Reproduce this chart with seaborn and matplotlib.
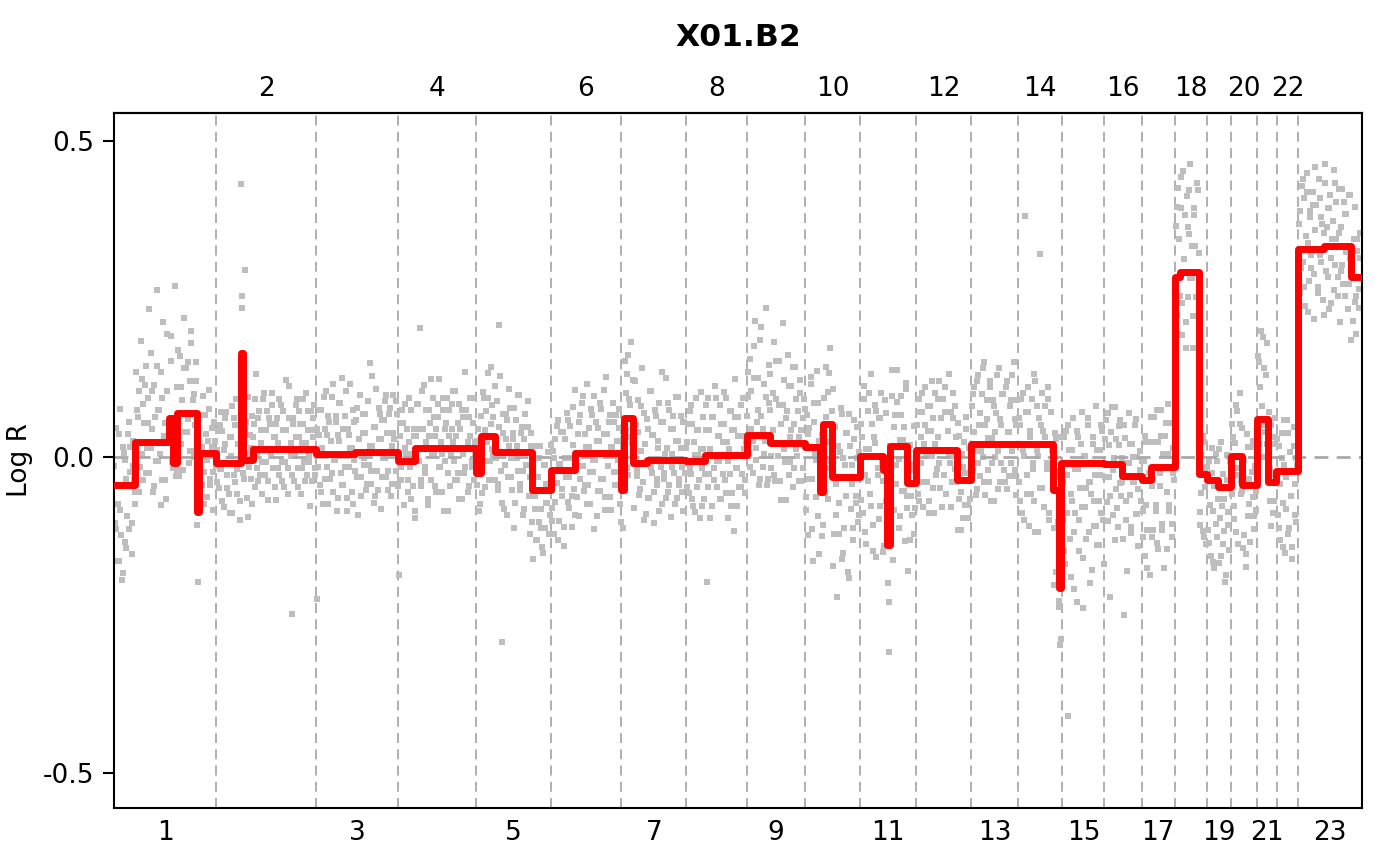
import numpy as np
import pandas as pd
import matplotlib
matplotlib.use("Agg")
import matplotlib.pyplot as plt
import seaborn as sns

sns.set_style("ticks")
plt.rcParams["font.family"] = ["DejaVu Sans"]
plt.rcParams.update({"text.color": "black", "axes.labelcolor": "black",
                     "xtick.color": "black", "ytick.color": "black",
                     "axes.edgecolor": "black"})

# chromosome names and sizes (Mb, hg19)
chrom_names = ["1", "2", "3", "4", "5", "6", "7", "8", "9", "10", "11", "12",
               "13", "14", "15", "16", "17", "18", "19", "20", "21", "22", "23"]
chrom_len = [249.3, 243.2, 198.0, 191.2, 180.9, 171.1, 159.1, 146.4, 141.2, 135.5,
             135.0, 133.9, 115.2, 107.3, 102.5, 90.4, 81.2, 78.1, 59.1, 63.0,
             48.1, 51.3, 155.3]

# segmentation: boundaries (genome Mb) and segment mean log R
seg_bounds = [0, 51, 134, 144, 153, 202, 207, 249.3, 309, 314, 338, 492.5, 587, 690.5,
              733, 881.7, 893, 927, 1017, 1062.6, 1122, 1233.7, 1240, 1262, 1297, 1392.8,
              1438, 1539.2, 1596, 1680.4, 1718, 1725, 1747, 1815.9, 1870, 1880, 1888, 1929,
              1950.9, 2051, 2084.8, 2200, 2284, 2298, 2305, 2409.8, 2452, 2500.2, 2522,
              2581.4, 2594, 2640, 2659.5, 2686, 2718.6, 2744, 2781.6, 2808, 2826, 2881,
              2943, 3009, 3036.3]
seg_mean = [-0.044, 0.024, 0.062, -0.010, 0.070, -0.087, 0.006, -0.009, 0.165, -0.005,
            0.012, 0.005, 0.008, -0.006, 0.014, -0.025, 0.033, 0.008, -0.052, -0.021,
            0.006, -0.052, 0.062, -0.010, -0.005, -0.007, 0.003, 0.035, 0.022, 0.016,
            -0.055, 0.053, -0.032, 0.002, -0.020, -0.139, 0.017, -0.041, 0.011, -0.036,
            0.020, 0.021, -0.052, -0.207, -0.009, -0.011, -0.030, -0.036, -0.016, 0.285,
            0.293, -0.027, -0.036, -0.047, 0.002, -0.044, 0.060, -0.039, -0.022, 0.329,
            0.334, 0.285]

# probe log R around the segment mean, in hundredths, one string per chromosome
point_resid = [
    "-6 9 -3 -12 12 -8 -14 5 4 -10 8 -7 6 -11 3 1 -8 5 -2 8 -4 10 -6 3 12 -1 7 -5 14 2 "
    "-8 9 -3 24 5 -2 11 -6 19 3 -9 8 1 -4 13 -7 6 28 -2 4 -10 9 -5 2 15 -3 7 -1 -8 5 "
    "11 -6 3 -2 8 -11 4 0 -5 9 -3 6 -7 2 10 -4 1 -9 5 -2",
    "2 -4 6 -1 5 -7 3 8 -2 -5 4 1 -8 7 -3 10 -1 3 -6 44 9 -2 30 6 1 -9 4 -3 7 2 "
    "-6 12 -1 5 -4 3 -7 8 0 -2 6 -5 4 -1 9 -3 2 -8 5 1 -4 7 -2 3 -6 11 0 -3 5 -1 "
    "-26 4 -5 2 8 -3 6 -7 1 4 -2 9 -4 3 -1 6 -5 2 7 -3",
    "-23 3 -5 7 1 -8 4 10 -2 6 -4 2 9 -6 -1 5 -9 3 8 -3 12 -5 0 6 -7 4 -2 11 1 -8 "
    "5 -3 7 -10 2 9 -4 6 -1 3 -6 8 -2 14 -5 1 4 -7 10 -3 2 6 -9 5 -1 8 -4 3 -6 7 0 -5 9 2 -3 6",
    "-18 4 -3 6 -7 9 1 -5 3 -1 8 -4 5 -8 2 7 -2 19 -6 3 10 -3 1 -9 6 4 -5 8 -1 2 "
    "-7 5 11 -3 -1 6 -10 3 8 -4 2 -6 7 1 -2 9 -5 4 -8 3 6 -1 -4 12 0 -7 5 2 -3 8 -5 1",
    "5 -6 2 9 -3 7 -8 4 -1 6 -4 11 -2 3 -7 1 8 -5 20 -3 -30 6 -9 2 5 -4 10 -1 -6 3 "
    "7 -8 1 -3 9 -5 4 -10 2 6 -2 8 -7 -4 3 -11 5 -1 -8 2 -5 7 -3 -9 4 -6 1 -2 6 -4",
    "-6 3 -10 5 -2 8 -8 1 -4 6 -12 2 9 -5 -1 7 -9 4 -3 10 -7 0 5 -4 8 -2 -6 3 11 -5 "
    "1 -8 6 -3 9 -1 -10 4 2 -6 7 -4 3 -9 12 -2 5 -7 1 8 -3 -5 6 -1 4 -8",
    "4 -6 9 -2 7 -9 3 12 -4 1 -7 6 -1 10 -5 2 15 -3 8 -8 0 5 -6 11 -2 4 -10 7 -4 3 "
    "9 -1 -7 6 -3 13 2 -5 8 -9 1 5 -2 10 -6 3 -4 7 -1 -8 6 2",
    "3 -5 8 -2 6 -7 1 10 -4 5 -9 2 -1 7 -6 4 -20 9 -3 1 -8 6 -2 11 -5 3 -1 8 -7 2 "
    "5 -4 9 -10 1 -3 7 -6 4 12 -2 -8 6 0 -5 3 9 -4 2",
    "6 -3 12 1 -6 9 18 -2 4 -8 15 3 -5 8 -1 20 -7 5 11 -4 2 16 -6 7 -2 13 0 -9 6 10 "
    "-3 4 14 -5 1 9 -7 3 12 -1 5 -6 8 2 -4 7",
    "-8 5 -14 3 10 -5 -18 7 -2 12 -11 1 6 -7 -16 4 9 -3 -12 8 -6 2 14 -9 -1 -19 5 -4 11 -13 "
    "3 -8 7 0 -15 10 -5 2 -10 6 -3 8 -7 4",
    "5 -9 11 -3 -14 7 1 -6 13 -11 3 8 -16 -2 6 -8 10 -4 -12 2 9 -6 -17 4 -1 12 -10 5 -3 7 "
    "-13 1 8 -7 3 -15 10 -2 6 -9 2 -5 9 -4",
    "4 -7 8 -2 6 -9 1 10 -5 3 -8 7 -1 5 -10 9 -3 2 11 -6 0 8 -4 6 -7 3 12 -2 -9 5 "
    "-1 7 -5 9 -3 4 -8 2 6 -4 10 -6 1 -3",
    "6 -4 9 -1 -7 11 3 -5 8 -2 13 -8 4 1 -6 10 -3 7 -9 2 5 -1 12 -6 3 8 -4 0 9 -7 "
    "2 6 -3 11 -5 4 -8 7",
    "-6 3 -11 8 -2 36 -8 5 -13 1 7 -4 -9 10 -1 -14 4 30 -7 2 -10 6 -3 9 -12 0 5 -6 -15 3 "
    "8 -5 -2 -9 4",
    "-3 -14 5 -8 -40 2 -18 -6 7 -11 -1 -22 4 -9 -4 8 -15 1 -7 -12 6 -3 -19 -5 3 -10 -2 9 -13 -6 "
    "2 -8 5 -16",
    "4 -6 8 -2 -21 5 -8 1 9 -4 -10 3 7 -5 -1 -22 6 -7 2 10 -3 -9 5 -1 8 -6 3 -11 1 -4",
    "-5 3 -12 6 -8 1 -15 8 -3 -10 4 -6 9 -13 -1 5 -9 2 -16 7 -4 10 -7 0 -11 3 -2",
    "8 -6 14 -3 10 -10 16 2 -8 12 -4 6 17 -1 -12 9 4 -7 13 -2 -6 3 -9 5 -2 -11",
    "-8 3 -12 1 -5 -14 4 -9 -2 6 -11 -3 2 -7 -15 5 -4 -10 0",
    "5 -8 2 -12 7 -3 10 -6 -1 -10 4 -13 8 -5 1 -9 6 -2 -7 3 -4",
    "10 -4 14 2 -6 8 -2 12 -8 5 -3 9 -5 1 7 -1",
    "-7 4 -11 2 -5 8 -13 -1 6 -9 3 -4 -12 7 -2 -8 1",
    "4 -7 10 -2 8 -9 12 1 -5 6 -3 9 -11 3 7 -6 11 -1 5 -8 2 13 -4 6 -10 8 -2 4 -7 10 "
    "1 -5 9 -12 3 -3 7 -8 5 -1 -6 8 -10 2 6 -4 -9 4 -2 7 -5",
]

# a second probe set (other array spots), same layout
point_resid_b = [
    "3 -7 -12 8 -4 -15 6 -9 1 -5 10 2 -6 7 -3 11 4 -8 16 -2 6 9 -5 3 21 -1 8 -7 4 12 "
    "-3 5 -10 7 1 -6 17 3 -4 9 -8 2 6 -1 10 -5 4 -9 7 0 -3 8 -6 13 2 -7 5 -2 9 -4 "
    "1 6 -8 3 -1 7 -5 4 -3 2",
    "-3 5 -1 8 -6 2 7 -4 0 -8 4 9 -2 6 -5 3 -9 1 7 -3 5 -6 10 -1 2 -7 4 8 -3 -5 "
    "6 1 -2 9 -4 3 -8 5 -1 7 2 -6 4 -3 8 0 -5 6 -2 3 -7 10 1 -4 5 -1 7 -6 2 4 "
    "-3 8 -5 1 6 -2 -9 3 5 -4",
    "4 -2 7 -6 1 9 -4 3 -8 5 0 -3 11 -1 6 -7 2 8 -5 4 -2 10 -9 3 1 -6 7 -1 5 -4 "
    "2 9 -7 3 -2 6 -5 8 1 -3 12 -8 4 0 -6 7 2 -4 5 -1 9 -3 6 -7 1 3 -5 8",
    "-4 6 -1 8 -7 2 5 -3 10 -6 1 4 -9 7 -2 3 -5 9 0 -4 6 -8 2 11 -1 5 -6 3 7 -3 "
    "1 -7 8 -2 4 -10 6 -1 3 9 -5 2 -4 7 0 -8 5 -3 6 1 -6 8 -2 4 -1",
    "-2 7 -5 3 -9 6 1 -4 10 -7 2 5 -3 8 -1 -6 4 12 -8 3 -2 6 -10 1 7 -4 2 -12 5 -1 "
    "9 -6 3 -3 -9 6 -2 4 -13 1 -5 7 -3 -8 2 5 -6 0 -10 4 -2 6 -7",
    "4 -8 2 -5 7 -11 1 6 -3 -9 5 -1 8 -6 2 -4 10 -7 0 3 -10 6 -2 9 -5 1 -8 4 -3 7 "
    "-1 -12 5 2 -6 8 -4 0 10 -7 3 -2 6 -9 1 5 -5 2 -3 7",
    "-5 8 -1 4 -8 10 2 -3 6 -7 13 -2 5 -4 9 0 -9 3 7 -6 11 -1 4 -5 8 -3 2 -8 6 14 "
    "-2 1 -6 9 -4 5 -1 7 -7 3 10 -3 2 -5 6 -2",
    "-4 6 -1 9 -6 3 -8 5 1 -3 11 -7 2 -2 8 -5 4 -10 6 0 -4 9 -1 3 -7 5 -3 10 -6 2 "
    "-1 7 -8 4 -12 6 -2 3 -5 8 -3 1 -6",
    "3 10 -5 7 -1 14 -4 2 9 -7 17 1 -3 6 -8 11 4 -2 8 -5 13 0 6 -6 3 19 -1 -9 5 9 "
    "-3 2 12 -4 7 -2 1 10 -6 4",
    "6 -10 2 -5 11 -13 4 -1 -8 7 -17 3 9 -4 -11 1 5 -7 12 -2 -14 8 -6 0 -9 4 10 -12 2 -3 "
    "7 -16 5 -1 -8 9 -4 3 -6",
    "-7 3 9 -12 1 -4 10 -8 5 -15 2 7 -3 -10 6 -1 -13 11 -5 4 -9 0 8 -18 3 -6 12 -2 -11 5 "
    "1 -7 9 -4 -14 6 -2 3 -8",
    "-3 6 -8 2 9 -5 4 -1 7 -10 3 11 -6 1 -4 8 -2 5 -9 0 10 -7 3 -1 6 -5 9 -3 2 -8 "
    "7 -2 4 -6 1 8 -4 5",
    "-5 8 2 -8 10 -3 5 -1 12 -6 3 7 -4 9 -9 1 6 -2 11 -7 4 -3 8 0 -6 10 2 -5 7 -1 13 -4 3",
    "4 -9 7 -1 -12 5 -5 9 2 -8 -3 11 -14 6 -2 -7 3 8 -10 1 -4 7 -11 5 -1 -6 9 -13 2 -3 -8",
    "-9 4 -16 -2 6 -12 -5 2 -20 -8 5 -1 -14 3 -7 -23 1 -4 7 -11 -3 -17 4 -6 -10 2 -13 -2 6 -9",
    "-2 7 -9 3 -5 9 -1 -12 4 -7 6 -3 1 -10 8 -4 -15 2 5 -8 3 -1 9 -6 -2 4",
    "3 -9 7 -4 -14 1 6 -11 -2 8 -7 -12 4 -3 9 -10 0 5 -13 2 -6 7 -9 -1",
    "-3 11 -9 6 15 -5 2 9 -12 7 13 -1 4 -7 10 -4 14 3 -8 -3 6 -10 1",
    "2 -10 -4 5 -13 -1 -7 3 -12 -5 7 -9 -2 -14 1 -6 4",
    "-6 3 -10 8 -2 -14 5 -4 9 -8 0 -11 6 -3 -9 2 7 -5 -1",
    "-2 9 5 -6 13 -1 7 -4 11 2 -7 6 -3 10",
    "5 -9 -2 6 -12 1 -6 8 -10 3 -4 -14 4 -7 2",
    "-8 6 -3 11 -6 2 9 -10 5 -1 7 -4 13 0 -7 8 -2 4 -11 10 3 -5 6 -9 1 12 -3 7 -8 2 "
    "-4 9 -6 5 -1 -10 8 -2 4 -7 11 -3 6 -5 3",
]

chrom_end = np.cumsum(chrom_len)
chrom_start = chrom_end - np.array(chrom_len)
chrom_mid = chrom_start + np.array(chrom_len) / 2

# probe table
parts = []
for resid_set, offset in [(point_resid, 0.5), (point_resid_b, 0.0)]:
    for name, start, length, res in zip(chrom_names, chrom_start, chrom_len, resid_set):
        r = np.array(res.split(), dtype=float) / 100
        pos = start + (np.arange(len(r)) + offset + 0.25) / (len(r) + 0.5) * length
        parts.append(pd.DataFrame({"chrom": name, "pos": pos, "resid": r}))
probes = pd.concat(parts, ignore_index=True)
idx = np.clip(np.searchsorted(seg_bounds, probes["pos"], side="right") - 1, 0, len(seg_mean) - 1)
probes["logr"] = np.array(seg_mean)[idx] + probes["resid"]

# segment step line
steps = pd.DataFrame({"pos": np.repeat(seg_bounds, 2)[1:-1],
                      "logr": np.repeat(seg_mean, 2)})

fig, ax = plt.subplots(figsize=(14, 8.66), dpi=100)
fig.subplots_adjust(left=114 / 1400, right=1362 / 1400, bottom=1 - 808 / 866, top=1 - 113 / 866)

for x in chrom_end[:-1]:
    ax.axvline(x, color="#a9a9a9", lw=1.3, ls=(0, (5.5, 3.5)), zorder=1)

sns.scatterplot(data=probes, x="pos", y="logr", color="#bebebe", marker="s", s=17,
                linewidth=0, ax=ax, zorder=1.5)
ax.axhline(0, color="#a9a9a9", lw=2, ls=(0, (5, 3)), zorder=2)
sns.lineplot(data=steps, x="pos", y="logr", sort=False, estimator=None, color="red",
             lw=5, solid_capstyle="round", solid_joinstyle="round", ax=ax, zorder=3)

ax.set_xlim(0, chrom_end[-1])
ax.set_ylim(-0.555, 0.544)
ax.set_yticks([-0.5, 0.0, 0.5], labels=["-0.5", "0.0", "0.5"])
ax.set_xticks(chrom_mid[0::2], labels=chrom_names[0::2])
ax.tick_params(axis="x", length=0, pad=9, labelsize=19)
ax.tick_params(axis="y", length=8, width=1.5, pad=6, labelsize=19)

top = ax.secondary_xaxis("top")
top.set_xticks(chrom_mid[1::2], labels=chrom_names[1::2])
top.tick_params(length=0, pad=8, labelsize=19)
top.spines["top"].set_linewidth(1.5)

for sp in ax.spines.values():
    sp.set_linewidth(1.5)
    sp.set_color("black")

ax.set_xlabel("")
ax.set_ylabel("Log R", fontsize=19)
ax.yaxis.set_label_coords(-0.065, 0.5)

fig.text(738 / 1400, 1 - 38 / 866, "X01.B2", fontsize=22.6, fontweight="bold",
         ha="center", va="center")

fig.savefig("out.png", dpi=100)
